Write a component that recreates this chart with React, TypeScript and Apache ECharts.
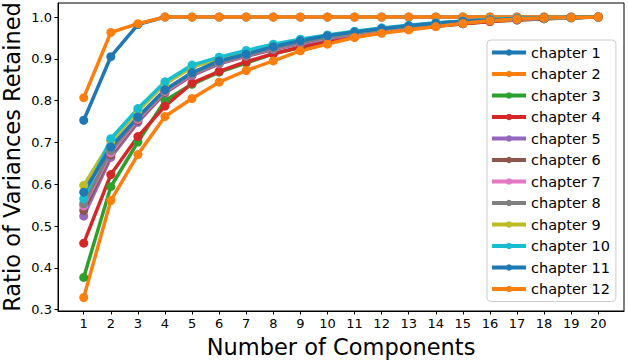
import React, { useEffect, useRef } from "react";
import * as echarts from "echarts";

const components = [1, 2, 3, 4, 5, 6, 7, 8, 9, 10, 11, 12, 13, 14, 15, 16, 17, 18, 19, 20];
const yTicks = [0.3, 0.4, 0.5, 0.6, 0.7, 0.8, 0.9, 1.0];

const chapterNames = [
  "chapter 1", "chapter 2", "chapter 3", "chapter 4", "chapter 5", "chapter 6",
  "chapter 7", "chapter 8", "chapter 9", "chapter 10", "chapter 11", "chapter 12",
];

const colors = [
  "#1f77b4", "#ff7f0e", "#2ca02c", "#d62728", "#9467bd", "#8c564b",
  "#e377c2", "#7f7f7f", "#bcbd22", "#17becf", "#1f77b4", "#ff7f0e",
];

const ch1 = [0.753, 0.905, 0.982, 1.0, 1.0, 1.0, 1.0, 1.0, 1.0, 1.0, 1.0, 1.0, 1.0, 1.0, 1.0, 1.0, 1.0, 1.0, 1.0, 1.0];
const ch2 = [0.807, 0.963, 0.984, 1.0, 1.0, 1.0, 1.0, 1.0, 1.0, 1.0, 1.0, 1.0, 1.0, 1.0, 1.0, 1.0, 1.0, 1.0, 1.0, 1.0];
const ch3 = [0.377, 0.594, 0.701, 0.800, 0.839, 0.868, 0.890, 0.912, 0.927, 0.941, 0.953, 0.963, 0.971, 0.978, 0.984, 0.989, 0.993, 0.996, 0.998, 1.0];
const ch4 = [0.459, 0.623, 0.714, 0.787, 0.842, 0.870, 0.893, 0.912, 0.928, 0.942, 0.953, 0.963, 0.971, 0.978, 0.984, 0.989, 0.993, 0.996, 0.998, 1.0];
const ch5 = [0.524, 0.664, 0.748, 0.818, 0.860, 0.888, 0.906, 0.922, 0.936, 0.948, 0.958, 0.967, 0.975, 0.981, 0.986, 0.991, 0.994, 0.997, 0.999, 1.0];
const ch6 = [0.537, 0.670, 0.752, 0.820, 0.862, 0.889, 0.907, 0.923, 0.937, 0.949, 0.959, 0.968, 0.976, 0.982, 0.987, 0.991, 0.995, 0.997, 0.999, 1.0];
const ch7 = [0.548, 0.675, 0.755, 0.822, 0.863, 0.890, 0.908, 0.924, 0.938, 0.950, 0.960, 0.969, 0.976, 0.982, 0.987, 0.991, 0.995, 0.997, 0.999, 1.0];
const ch8 = [0.553, 0.680, 0.758, 0.824, 0.864, 0.891, 0.909, 0.925, 0.939, 0.951, 0.961, 0.970, 0.977, 0.983, 0.988, 0.992, 0.995, 0.997, 0.999, 1.0];
const ch9 = [0.597, 0.702, 0.775, 0.840, 0.880, 0.900, 0.917, 0.932, 0.945, 0.955, 0.964, 0.972, 0.979, 0.985, 0.990, 0.993, 0.996, 0.998, 0.999, 1.0];
const ch10 = [0.565, 0.709, 0.781, 0.845, 0.885, 0.904, 0.920, 0.935, 0.947, 0.957, 0.966, 0.974, 0.980, 0.986, 0.990, 0.994, 0.997, 0.998, 0.999, 1.0];
const ch11 = [0.581, 0.689, 0.761, 0.826, 0.867, 0.895, 0.911, 0.929, 0.943, 0.955, 0.964, 0.972, 0.979, 0.985, 0.990, 0.993, 0.996, 0.998, 0.999, 1.0];
const ch12 = [0.329, 0.561, 0.671, 0.762, 0.805, 0.844, 0.872, 0.895, 0.919, 0.935, 0.951, 0.961, 0.969, 0.977, 0.985, 0.991, 0.995, 0.998, 0.999, 1.0];

const chapterValues = [ch1, ch2, ch3, ch4, ch5, ch6, ch7, ch8, ch9, ch10, ch11, ch12];

const FONT = "DejaVu Sans";

export default function App() {
  const ref = useRef<HTMLDivElement>(null);

  useEffect(() => {
    if (!ref.current) return;
    const chart = echarts.init(ref.current, undefined, { renderer: "svg" });
    const series = chapterValues.map((vals, i) => ({
      name: chapterNames[i],
      type: "line",
      data: vals.map((v, j) => [components[j], v]),
      symbol: "circle",
      symbolSize: 9,
      showSymbol: true,
      lineStyle: { width: 3.5, color: colors[i] },
      itemStyle: { color: colors[i] },
      emphasis: { disabled: true },
    }));
    chart.setOption({
      animation: false,
      textStyle: { fontFamily: FONT },
      grid: {
        left: 58,
        right: 4,
        top: 3,
        bottom: 49,
        containLabel: false,
        outerBoundsMode: "none",
        show: true,
        borderColor: "#000",
        borderWidth: 1,
        backgroundColor: "transparent",
      },
      legend: {
        orient: "vertical",
        left: 487,
        top: 40,
        data: chapterNames,
        itemWidth: 34,
        itemHeight: 8,
        itemGap: 6.5,
        padding: [5, 6, 5, 3],
        borderColor: "#cccccc",
        borderWidth: 1,
        borderRadius: 4,
        backgroundColor: "rgba(255,255,255,0.8)",
        lineStyle: { width: 4 },
        textStyle: { fontFamily: FONT, fontSize: 14.5, color: "#000", lineHeight: 15 },
      },
      xAxis: {
        type: "value",
        min: 0.05,
        max: 20.95,
        name: "Number of Components",
        nameLocation: "middle",
        nameGap: 24,
        nameMoveOverlap: false,
        nameTextStyle: { fontFamily: FONT, fontSize: 22.5, color: "#000" },
        axisLine: { show: true, lineStyle: { color: "#000", width: 1 } },
        axisTick: { show: true, length: 3.5, lineStyle: { color: "#000" }, customValues: components },
        axisLabel: {
          fontFamily: FONT,
          fontSize: 13,
          color: "#000",
          margin: 6,
          customValues: components,
          formatter: (v: number) => String(Math.round(v)),
        },
        splitLine: { show: false },
      },
      yAxis: {
        type: "value",
        min: 0.2967,
        max: 1.0335,
        name: "Ratio of Variances Retained",
        nameLocation: "middle",
        nameGap: 34.5,
        nameMoveOverlap: false,
        nameTextStyle: { fontFamily: FONT, fontSize: 22.5, color: "#000", lineHeight: 23 },
        axisLine: { show: true, lineStyle: { color: "#000", width: 1 } },
        axisTick: { show: true, length: 3.5, lineStyle: { color: "#000" }, customValues: yTicks },
        axisLabel: {
          fontFamily: FONT,
          fontSize: 13,
          color: "#000",
          margin: 6,
          customValues: yTicks,
          formatter: (v: number) => v.toFixed(1),
        },
        splitLine: { show: false },
      },
      series,
    });
    return () => chart.dispose();
  }, []);

  return (
    <div
      ref={ref}
      style={{ position: "fixed", left: 0, top: 0, width: 628, height: 360, background: "#fff" }}
    />
  );
}
